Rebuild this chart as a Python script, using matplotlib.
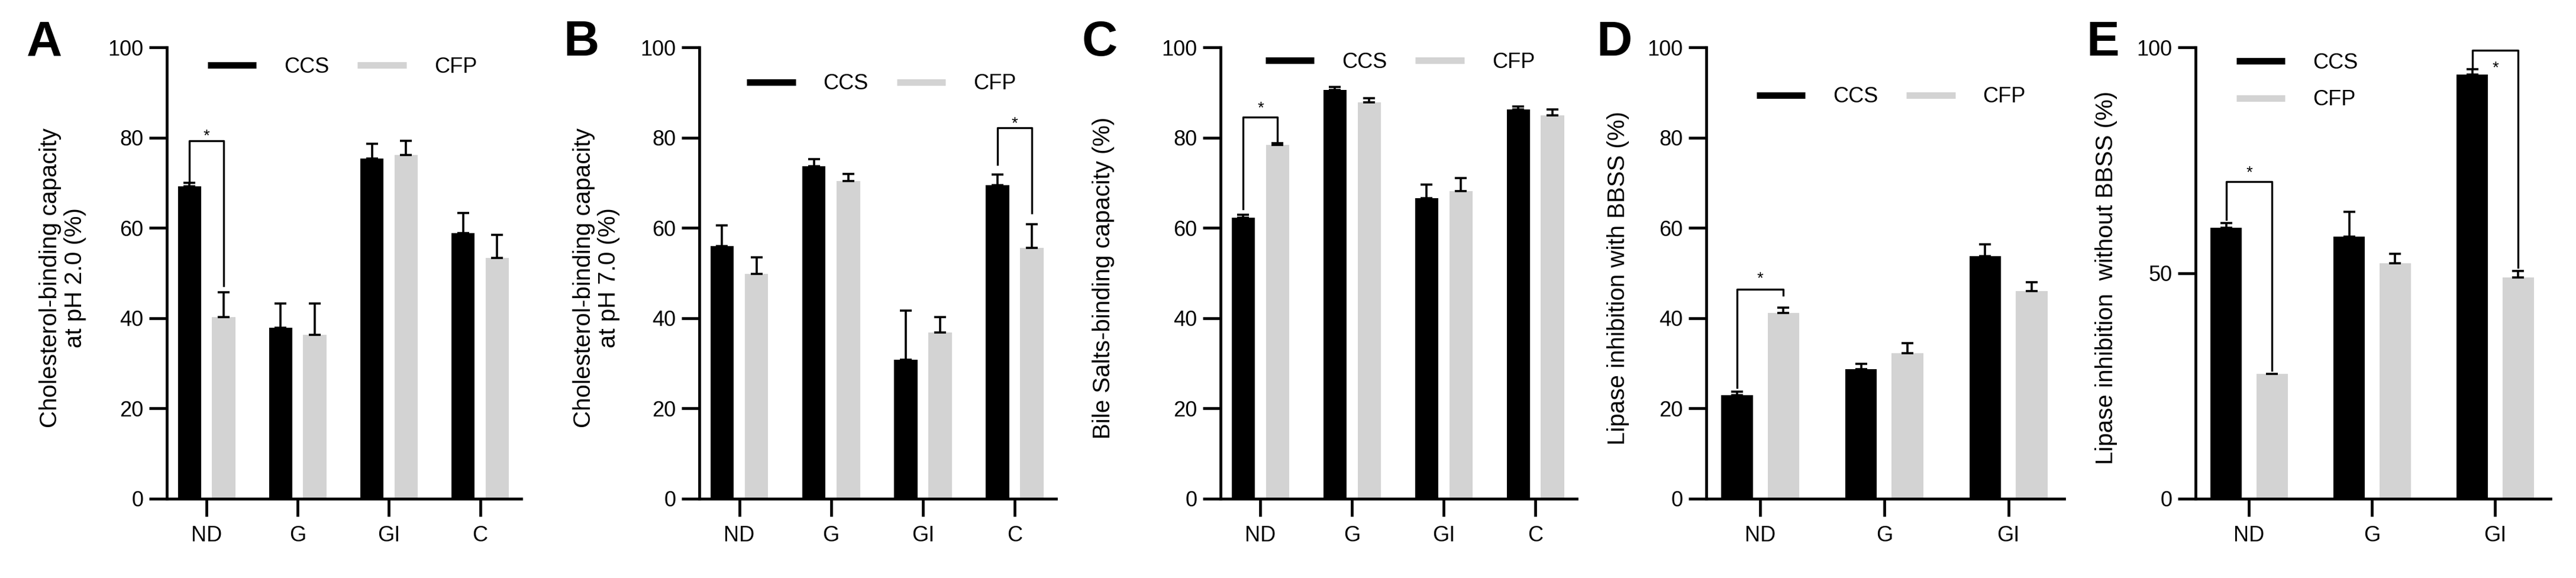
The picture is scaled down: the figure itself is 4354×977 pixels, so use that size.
import numpy as np
import matplotlib
matplotlib.use("Agg")
import matplotlib.pyplot as plt
from matplotlib.lines import Line2D

plt.rcParams['font.family'] = ['Liberation Sans', 'DejaVu Sans']

groups4 = ["ND", "G", "GI", "C"]
groups3 = ["ND", "G", "GI"]

# panel A - cholesterol binding pH 2.0
a_ccs = [69.2, 37.9, 75.3, 58.9]
a_ccs_err = [0.8, 5.4, 3.3, 4.4]
a_cfp = [40.2, 36.3, 76.2, 53.3]
a_cfp_err = [5.6, 7.0, 3.1, 5.1]

# panel B - cholesterol binding pH 7.0
b_ccs = [55.9, 73.6, 30.8, 69.5]
b_ccs_err = [4.6, 1.6, 10.9, 2.3]
b_cfp = [49.8, 70.4, 36.8, 55.6]
b_cfp_err = [3.7, 1.5, 3.4, 5.2]

# panel C - bile salts binding
c_ccs = [62.3, 90.5, 66.6, 86.2]
c_ccs_err = [0.6, 0.7, 3.0, 0.7]
c_cfp = [78.4, 87.8, 68.2, 84.9]
c_cfp_err = [0.4, 0.9, 2.9, 1.4]

# panel D - lipase inhibition with BBSS
d_ccs = [22.9, 28.7, 53.7]
d_ccs_err = [0.8, 1.2, 2.7]
d_cfp = [41.1, 32.2, 46.0]
d_cfp_err = [1.2, 2.3, 2.0]

# panel E - lipase inhibition without BBSS
e_ccs = [60.0, 58.0, 94.0]
e_ccs_err = [1.1, 5.6, 1.1]
e_cfp = [27.6, 52.2, 49.0]
e_cfp_err = [np.nan, 2.1, 1.4]

# significance brackets: (group, top, left leg end, right leg end, star y)
a_sig = [(0, 79.3, 70.0, 47.2, 81.5)]
b_sig = [(3, 82.2, 74.1, 63.3, 84.3)]
c_sig = [(0, 84.5, 64.2, 78.8, 87.6)]
d_sig = [(0, 46.4, 24.7, 45.1, 49.9)]
e_sig = [(0, 70.2, 61.9, 28.4, 73.3), (2, 99.3, 95.3, 51.3, 96.6)]

W, H = 4354, 977
fig = plt.figure(figsize=(W / 100, H / 100), dpi=100)

GREY = "#d3d3d3"
FS = 26
off = 0.187
bw = 0.255
y0px, y100px = 843, 80
bot = (H - y0px) / H
hgt = (y0px - y100px) / H

panels = [
    dict(letter="A", lx=45, left=282, right=881, groups=groups4, ccs=a_ccs, ccs_err=a_ccs_err,
         cfp=a_cfp, cfp_err=a_cfp_err, sig=a_sig, yticks=[0, 20, 40, 60, 80, 100],
         label="Cholesterol-binding capacity\nat pH 2.0 (%)", labx=106,
         leg=(0.115, 0.956), ncol=2),
    dict(letter="B", lx=952, left=1182, right=1785, groups=groups4, ccs=b_ccs, ccs_err=b_ccs_err,
         cfp=b_cfp, cfp_err=b_cfp_err, sig=b_sig, yticks=[0, 20, 40, 60, 80, 100],
         label="Cholesterol-binding capacity\nat pH 7.0 (%)", labx=1008,
         leg=(0.133, 0.919), ncol=2),
    dict(letter="C", lx=1829, left=2063, right=2665, groups=groups4, ccs=c_ccs, ccs_err=c_ccs_err,
         cfp=c_cfp, cfp_err=c_cfp_err, sig=c_sig, yticks=[0, 20, 40, 60, 80, 100],
         label="Bile Salts-binding capacity (%)", labx=1865,
         leg=(0.126, 0.967), ncol=2),
    dict(letter="D", lx=2698, left=2884, right=3489, groups=groups3, ccs=d_ccs, ccs_err=d_ccs_err,
         cfp=d_cfp, cfp_err=d_cfp_err, sig=d_sig, yticks=[0, 20, 40, 60, 80, 100],
         label="Lipase inhibition with BBSS (%)", labx=2735,
         leg=(0.14, 0.89), ncol=2),
    dict(letter="E", lx=3526, left=3711, right=4311, groups=groups3, ccs=e_ccs, ccs_err=e_ccs_err,
         cfp=e_cfp, cfp_err=e_cfp_err, sig=e_sig, yticks=[0, 50, 100],
         label="Lipase inhibition  without BBSS (%)", labx=3560,
         leg=(0.115, 0.9245), ncol=1),
]

for p in panels:
    ax = fig.add_axes([p["left"] / W, bot, (p["right"] - p["left"]) / W, hgt])
    n = len(p["groups"])
    x = np.arange(n)
    ax.bar(x - off, p["ccs"], bw, color="black", zorder=2)
    ax.bar(x + off, p["cfp"], bw, color=GREY, zorder=2)
    ax.errorbar(x - off, p["ccs"], yerr=[np.zeros(n), p["ccs_err"]], fmt="none",
                ecolor="black", elinewidth=2.6, capsize=7, capthick=2.6, zorder=3)
    ax.errorbar(x + off, p["cfp"], yerr=[np.zeros(n), p["cfp_err"]], fmt="none",
                ecolor="black", elinewidth=2.6, capsize=7, capthick=2.6, zorder=3)

    for g, top, l_end, r_end, sy in p["sig"]:
        ax.plot([g - off, g - off, g + off, g + off], [l_end, top, top, r_end],
                color="black", lw=2.4, clip_on=False, zorder=4)
        ax.annotate("*", xy=(g, sy), xytext=(0, -0.575 * 20), textcoords="offset points",
                    ha="center", va="baseline", fontsize=20)

    ax.set_xlim(-0.435, n - 1 + 0.45)
    ax.set_ylim(0, 100)
    ax.set_xticks(x)
    ax.set_xticklabels(p["groups"])
    ax.set_yticks(p["yticks"])
    for s in ["top", "right"]:
        ax.spines[s].set_visible(False)
    for s in ["left", "bottom"]:
        ax.spines[s].set_linewidth(3.4)
    ax.tick_params(axis="both", width=3.4, length=21.5, labelsize=FS)
    ax.tick_params(axis="x", pad=11)
    ax.tick_params(axis="y", pad=7)

    ax.text((p["labx"] - p["left"]) / (p["right"] - p["left"]), 0.489, p["label"],
            transform=ax.transAxes, rotation=90, ha="center", va="center",
            multialignment="center", fontsize=29, linespacing=1.15)

    handles = [Line2D([], [], color="black", lw=7.9, solid_capstyle="butt"),
               Line2D([], [], color=GREY, lw=7.9, solid_capstyle="butt")]
    ax.legend(handles, ["CCS", "CFP"], loc="center left", bbox_to_anchor=p["leg"],
              ncol=p["ncol"], frameon=False, fontsize=FS, borderpad=0, borderaxespad=0,
              handlelength=2.28, handletextpad=1.3, columnspacing=1.33, labelspacing=0.75)

    fig.text(p["lx"] / W, 1 - 33 / H, p["letter"], fontsize=60, fontweight="bold",
             ha="left", va="top")

fig.savefig("out.png", dpi=100)
